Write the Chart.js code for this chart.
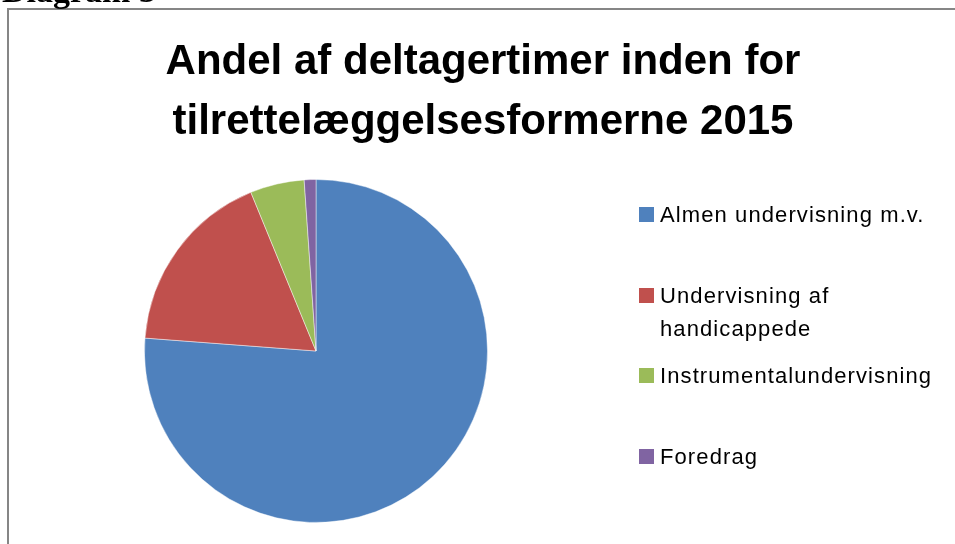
<!DOCTYPE html>
<html>
<head>
<meta charset="utf-8">
<script src="https://cdn.jsdelivr.net/npm/chart.js@4"></script>
<style>
  html, body { margin: 0; padding: 0; background: #fff; overflow: hidden; }
  #wrap { position: relative; width: 955px; height: 544px; }
  #caption { position: absolute; left: 2px; top: -25px; font: bold 34px "Liberation Serif", serif; color: #000; white-space: nowrap; line-height: 32px; }
</style>
</head>
<body>
<div id="wrap">
  <canvas id="pieChart" width="955" height="544"></canvas>
  <div id="caption">Diagram 3</div>
</div>
<script>
// data (percent of participant hours)
const categories = [
    'Almen undervisning m.v.',
    ['Undervisning af', 'handicappede'],
    'Instrumentalundervisning',
    'Foredrag'
];
const shares = [76.2, 17.6, 5.1, 1.1];
const sliceColors = ['#4F81BD', '#C0504D', '#9BBB59', '#8064A2'];
const titleLines = ['Andel af deltagertimer inden for', 'tilrettelæggelsesformerne 2015'];

// frame, title and legend drawn on the canvas
const decorPlugin = {
    id: 'decor',
    beforeDraw(chart) {
        const c = chart.ctx;
        c.save();
        c.strokeStyle = '#868686';
        c.lineWidth = 2;
        c.beginPath();
        c.moveTo(8, 560);
        c.lineTo(8, 9);
        c.lineTo(970, 9);
        c.stroke();
        c.restore();
    },
    afterDraw(chart) {
        const c = chart.ctx;
        c.save();
        c.fillStyle = '#000';
        c.textAlign = 'center';
        c.textBaseline = 'alphabetic';
        c.font = 'bold 42px "Liberation Sans", Arial, sans-serif';
        titleLines.forEach((t, i) => c.fillText(t, 483, 74 + i * 60));

        // legend
        c.textAlign = 'left';
        c.font = '22px "Liberation Sans", Arial, sans-serif';
        if ('letterSpacing' in c) c.letterSpacing = '1.1px';
        const boxTops = [207, 288, 368, 449];
        chart.data.labels.forEach((lab, i) => {
            const y = boxTops[i];
            c.fillStyle = chart.data.datasets[0].backgroundColor[i];
            c.fillRect(639, y, 15, 15);
            c.fillStyle = '#000';
            const lines = Array.isArray(lab) ? lab : [lab];
            lines.forEach((ln, j) => c.fillText(ln, 660, y + 15 + j * 33));
        });
        c.restore();
    }
};

const ctx = document.getElementById('pieChart').getContext('2d');
const pieChart = new Chart(ctx, {
    type: 'pie',
    data: {
        labels: categories,
        datasets: [{
            data: shares,
            backgroundColor: sliceColors,
            borderColor: 'rgba(255,255,255,0.45)',
            borderWidth: 1
        }]
    },
    options: {
        responsive: false,
        animation: false,
        layout: {
            padding: { left: 144, right: 467, top: 179, bottom: 21 }
        },
        plugins: {
            legend: { display: false },
            title: { display: false },
            tooltip: { enabled: false }
        }
    },
    plugins: [decorPlugin]
});
</script>
</body>
</html>
